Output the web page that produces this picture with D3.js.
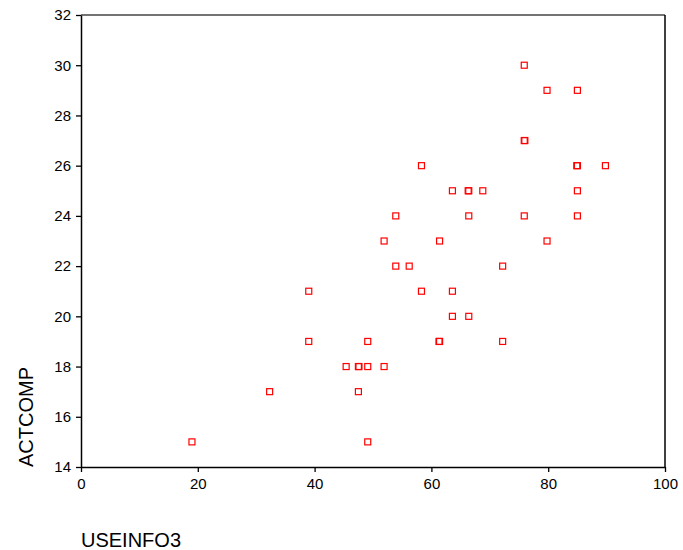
<!DOCTYPE html>
<html>
<head>
<meta charset="utf-8">
<script src="https://cdn.jsdelivr.net/npm/d3@7"></script>
<style>
  body { margin: 0; background: #fff; }
  svg text { font-family: "Liberation Sans", Arial, sans-serif; }
</style>
</head>
<body>
<div id="chart"></div>
<script>
// USEINFO3 (x) and ACTCOMP (y)
const useinfo3 = [19.0, 32.3, 39.0, 39.0, 45.4, 47.5, 47.6, 47.5, 49.1, 49.1, 49.1,
  51.9, 51.9, 53.9, 53.9, 56.2, 58.3, 58.3, 61.4, 61.3, 61.4, 63.6, 63.6, 63.6,
  66.3, 66.4, 66.4, 66.4, 68.8, 72.2, 72.2, 75.9, 75.9, 76.0, 75.9, 79.8, 79.8,
  85.0, 84.9, 85.0, 85.0, 85.0, 89.8];
const actcomp = [15, 17, 21, 19, 18, 18, 18, 17, 19, 18, 15,
  18, 23, 24, 22, 22, 26, 21, 23, 19, 19, 25, 21, 20,
  25, 25, 24, 20, 25, 22, 19, 30, 27, 27, 24, 29, 23,
  29, 26, 26, 25, 24, 26];
const xTicks = [0, 20, 40, 60, 80, 100];
const yTicks = [14, 16, 18, 20, 22, 24, 26, 28, 30, 32];

const W = 683, H = 550;
const margin = { top: 15, right: 18, bottom: 83, left: 81 };
const width = W - margin.left - margin.right;
const height = H - margin.top - margin.bottom;

const svg = d3.select("#chart").append("svg")
    .attr("width", W)
    .attr("height", H);
const g = svg.append("g")
    .attr("transform", `translate(${margin.left}, ${margin.top})`);

const x = d3.scaleLinear().domain([0, 100]).range([0, width]);
const y = d3.scaleLinear().domain([14, 32]).range([height, 0]);

// frame: top line is grey, the others black
g.append("line")
    .attr("x1", 0).attr("x2", width).attr("y1", 0).attr("y2", 0)
    .style("stroke", "#444").style("stroke-width", 1.5);
g.append("line")
    .attr("x1", width).attr("x2", width).attr("y1", 0).attr("y2", height)
    .style("stroke", "#000").style("stroke-width", 1.5);

const gx = g.append("g")
    .attr("transform", `translate(0, ${height})`)
    .call(d3.axisBottom(x).tickValues(xTicks).tickSize(5).tickPadding(6).tickSizeOuter(0));
const gy = g.append("g")
    .call(d3.axisLeft(y).tickValues(yTicks).tickSize(5).tickPadding(5).tickSizeOuter(0));

[gx, gy].forEach(a => {
    a.select(".domain").style("stroke", "#000").style("stroke-width", 1.5);
    a.selectAll(".tick line").style("stroke", "#000").style("stroke-width", 1.3);
    a.selectAll("text")
        .style("font-size", "15px")
        .style("fill", "#000")
        .style("font-family", "'Liberation Sans', Arial, sans-serif");
});

const pts = useinfo3.map((v, i) => ({ x: v, y: actcomp[i] }));
const s = 6;
g.selectAll("rect.pt")
    .data(pts)
    .enter()
    .append("rect")
    .attr("class", "pt")
    .attr("x", d => x(d.x) - s / 2)
    .attr("y", d => y(d.y) - s / 2)
    .attr("width", s)
    .attr("height", s)
    .style("fill", "#fff")
    .style("fill-opacity", 0)
    .style("stroke", "#ff0000")
    .style("stroke-width", 1.2);

// axis titles
svg.append("text")
    .attr("x", 81)
    .attr("y", 547)
    .style("font-size", "20px")
    .style("fill", "#000")
    .text("USEINFO3");

svg.append("text")
    .attr("transform", "translate(33, 467) rotate(-90)")
    .attr("text-anchor", "start")
    .style("font-size", "20px")
    .style("fill", "#000")
    .text("ACTCOMP");
</script>
</body>
</html>
